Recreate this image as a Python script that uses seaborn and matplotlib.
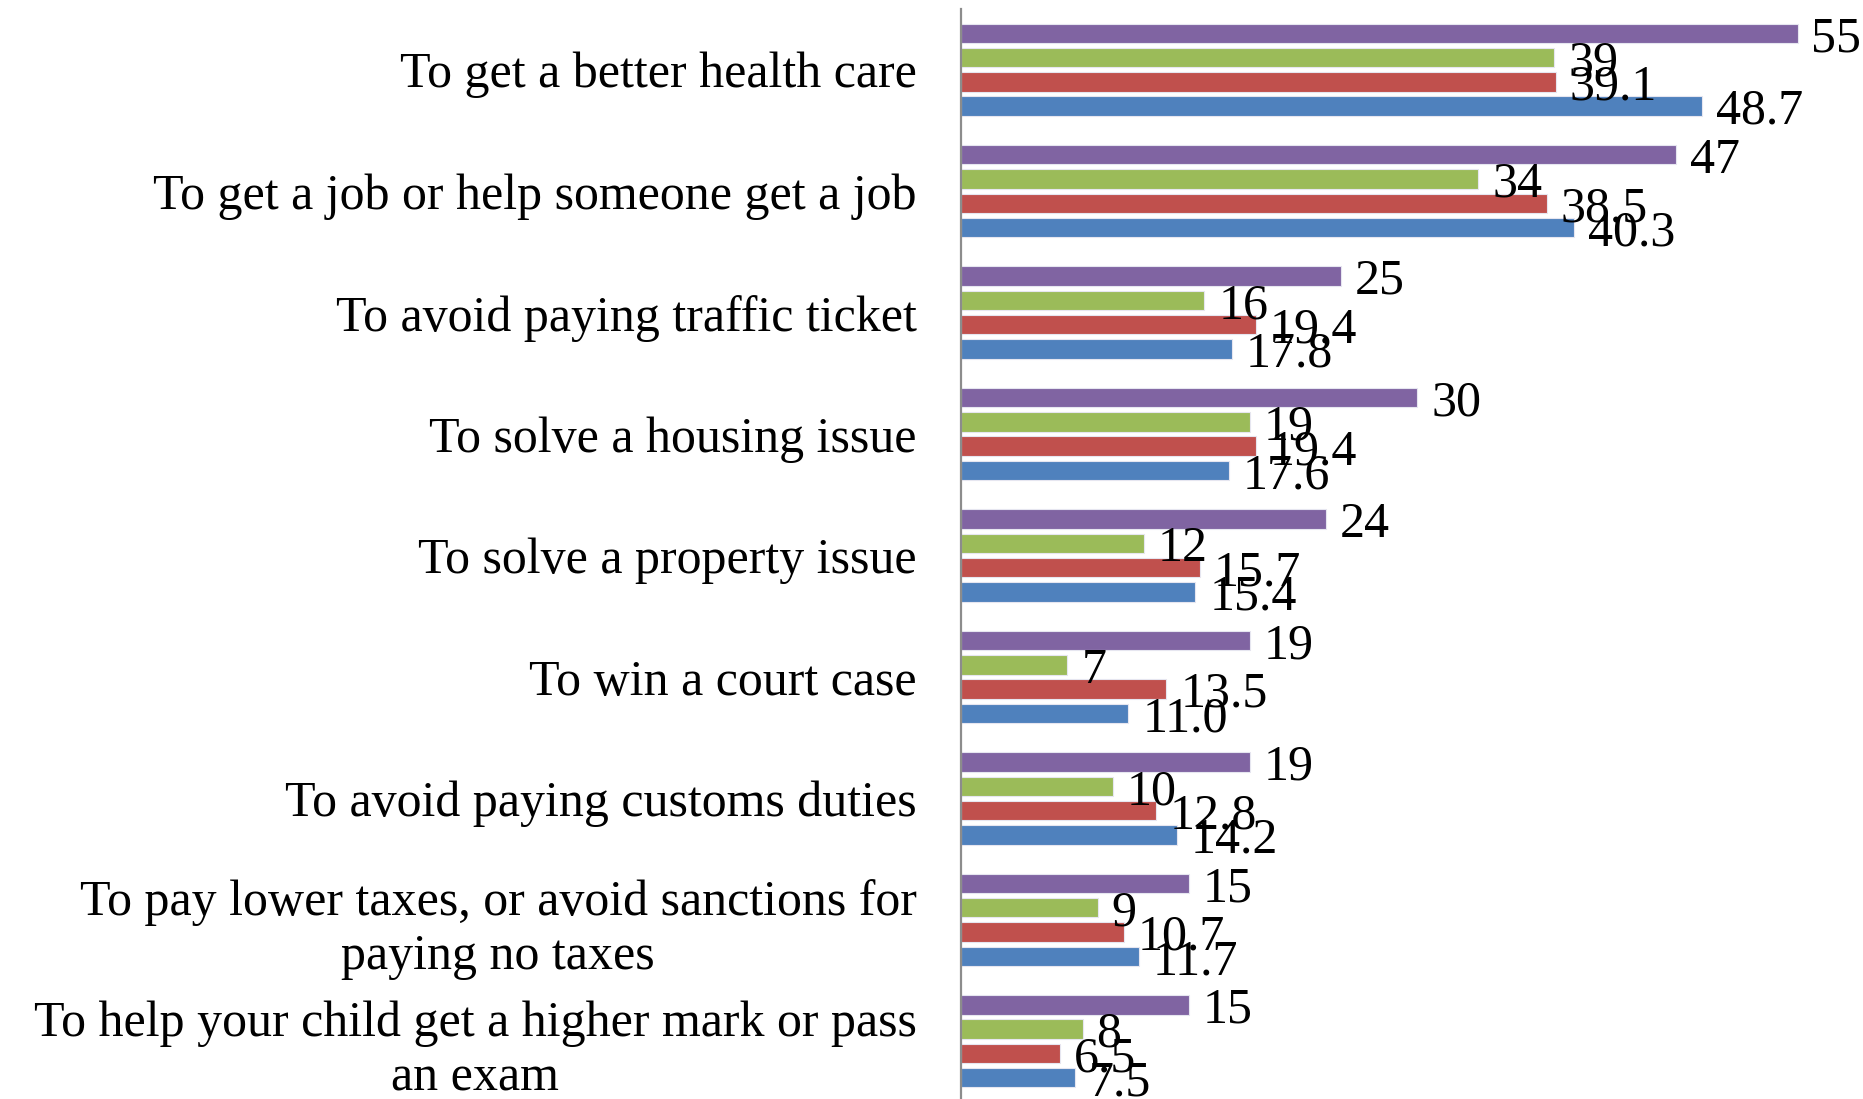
import matplotlib
matplotlib.use("Agg")
import matplotlib.pyplot as plt
import seaborn as sns
import pandas as pd

categories = [
    "To get a better health care",
    "To get a job or help someone get a job",
    "To avoid paying traffic ticket",
    "To solve a housing issue",
    "To solve a property issue",
    "To win a court case",
    "To avoid paying customs duties",
    "To pay lower taxes, or avoid sanctions for\npaying no taxes",
    "To help your child get a higher mark or pass\nan exam",
]
series_names = ["Series 1", "Series 2", "Series 3", "Series 4"]
series_1 = [55, 47, 25, 30, 24, 19, 19, 15, 15]
series_2 = [39, 34, 16, 19, 12, 7, 10, 9, 8]
series_3 = [39.1, 38.5, 19.4, 19.4, 15.7, 13.5, 12.8, 10.7, 6.5]
series_4 = [48.7, 40.3, 17.8, 17.6, 15.4, 11.0, 14.2, 11.7, 7.5]
label_formats = ["{:.0f}", "{:.0f}", "{:.1f}", "{:.1f}"]
colors = ["#8064A2", "#9BBB59", "#C0504D", "#4F81BD"]

rows = []
for name, values in zip(series_names, [series_1, series_2, series_3, series_4]):
    for cat, v in zip(categories, values):
        rows.append({"category": cat, "series": name, "value": v})
df = pd.DataFrame(rows)

sns.set_theme(style="white")
plt.rcParams["font.family"] = ["Liberation Serif", "DejaVu Serif"]
plt.rcParams["text.color"] = "black"
plt.rcParams["ytick.color"] = "black"

W, H = 1863, 1099
fig = plt.figure(figsize=(W / 100, H / 100), dpi=100)
ax = fig.add_axes([961 / W, 1 - 1102 / H, 1 - 961 / W, (1102 - 9) / H])

sns.barplot(
    data=df, y="category", x="value", hue="series",
    order=categories, hue_order=series_names, palette=colors,
    saturation=1, orient="h", width=0.8, gap=0.2, dodge=True, legend=False,
    edgecolor="#e6e6f0", linewidth=0.8, ax=ax,
)

for container, fmt in zip(ax.containers, label_formats):
    texts = ax.bar_label(container, labels=[fmt.format(b.get_width()) for b in container],
                         padding=10, fontsize=36, color="black")
    for t in texts:
        t.xyann = (10, -4)

ax.set_xlim(0, 59.3)
ax.set_xlabel("")
ax.set_ylabel("")
ax.set_xticks([])
ax.tick_params(axis="y", length=0, pad=32, labelsize=36, labelcolor="black")
for lbl in ax.get_yticklabels():
    lbl.set_multialignment("center")
    lbl.set_linespacing(1.22)
for side in ["top", "right", "bottom"]:
    ax.spines[side].set_visible(False)
ax.spines["left"].set_color("#8c8c8c")
ax.spines["left"].set_linewidth(1.6)

fig.savefig("out.png", dpi=100)
